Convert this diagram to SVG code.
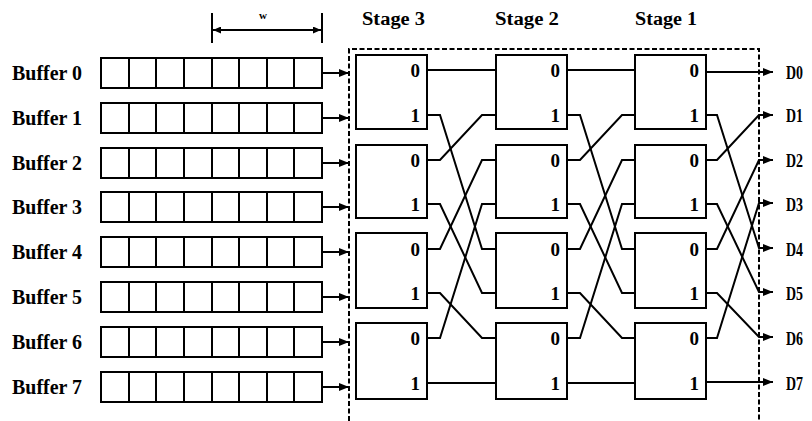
<svg xmlns="http://www.w3.org/2000/svg" width="812" height="421" viewBox="0 0 812 421">
<style>
.ln{fill:none;stroke:#000;stroke-width:2}
.box{fill:#fff;stroke:#000;stroke-width:2}
.dash{fill:none;stroke:#000;stroke-width:2;stroke-dasharray:5 2.5}
.t{font-family:"Liberation Serif",serif;font-weight:bold;fill:#000}
.lbl{font-size:20px}
.st{font-size:18px}
.pt{font-size:19px;text-anchor:end}
.arr{marker-end:url(#ah)}
</style>
<defs>
<marker id="ah" markerUnits="userSpaceOnUse" markerWidth="10" markerHeight="8" refX="10" refY="4" orient="auto">
<path d="M0,0L10,4L0,8z" fill="#000"/>
</marker>
<marker id="ah2" markerUnits="userSpaceOnUse" markerWidth="8" markerHeight="7" refX="8" refY="3.5" orient="auto-start-reverse">
<path d="M0,0L8,3.5L0,7z" fill="#000"/>
</marker>
</defs>
<rect width="812" height="421" fill="#fff"/>

<g id="width-marker">
<path class="ln" d="M212,13V43M322,13V43"/>
<line class="ln" x1="213" y1="30" x2="321" y2="30" marker-start="url(#ah2)" marker-end="url(#ah2)"/>
<text class="t" x="263" y="19" font-size="11" text-anchor="middle">w</text>
</g>

<g id="stage-labels">
<text class="t st" x="362" y="25" textLength="63" lengthAdjust="spacingAndGlyphs">Stage 3</text>
<text class="t st" x="495" y="25" textLength="64" lengthAdjust="spacingAndGlyphs">Stage 2</text>
<text class="t st" x="635" y="25" textLength="62" lengthAdjust="spacingAndGlyphs">Stage 1</text>
</g>

<g id="network-boundary">
<path class="dash" d="M349,421V49H759V421"/>
</g>

<g id="buffer0"><rect class="box" x="101" y="58" width="221" height="30"/><path class="ln" d="M129,58v30M156,58v30M184,58v30M212,58v30M239,58v30M267,58v30M294,58v30"/><text class="t lbl" x="12" y="80" textLength="70" lengthAdjust="spacingAndGlyphs">Buffer 0</text></g>
<g id="buffer1"><rect class="box" x="101" y="103" width="221" height="30"/><path class="ln" d="M129,103v30M156,103v30M184,103v30M212,103v30M239,103v30M267,103v30M294,103v30"/><text class="t lbl" x="12" y="125" textLength="70" lengthAdjust="spacingAndGlyphs">Buffer 1</text></g>
<g id="buffer2"><rect class="box" x="101" y="148" width="221" height="30"/><path class="ln" d="M129,148v30M156,148v30M184,148v30M212,148v30M239,148v30M267,148v30M294,148v30"/><text class="t lbl" x="12" y="170" textLength="70" lengthAdjust="spacingAndGlyphs">Buffer 2</text></g>
<g id="buffer3"><rect class="box" x="101" y="192" width="221" height="30"/><path class="ln" d="M129,192v30M156,192v30M184,192v30M212,192v30M239,192v30M267,192v30M294,192v30"/><text class="t lbl" x="12" y="214" textLength="70" lengthAdjust="spacingAndGlyphs">Buffer 3</text></g>
<g id="buffer4"><rect class="box" x="101" y="237" width="221" height="30"/><path class="ln" d="M129,237v30M156,237v30M184,237v30M212,237v30M239,237v30M267,237v30M294,237v30"/><text class="t lbl" x="12" y="259" textLength="70" lengthAdjust="spacingAndGlyphs">Buffer 4</text></g>
<g id="buffer5"><rect class="box" x="101" y="282" width="221" height="30"/><path class="ln" d="M129,282v30M156,282v30M184,282v30M212,282v30M239,282v30M267,282v30M294,282v30"/><text class="t lbl" x="12" y="304" textLength="70" lengthAdjust="spacingAndGlyphs">Buffer 5</text></g>
<g id="buffer6"><rect class="box" x="101" y="327" width="221" height="30"/><path class="ln" d="M129,327v30M156,327v30M184,327v30M212,327v30M239,327v30M267,327v30M294,327v30"/><text class="t lbl" x="12" y="349" textLength="70" lengthAdjust="spacingAndGlyphs">Buffer 6</text></g>
<g id="buffer7"><rect class="box" x="101" y="372" width="221" height="30"/><path class="ln" d="M129,372v30M156,372v30M184,372v30M212,372v30M239,372v30M267,372v30M294,372v30"/><text class="t lbl" x="12" y="394" textLength="70" lengthAdjust="spacingAndGlyphs">Buffer 7</text></g>

<g id="s3-sw0"><rect class="box" x="356" y="55" width="71" height="74"/><text class="t pt" x="420" y="77">0</text><text class="t pt" x="420" y="122">1</text></g>
<g id="s3-sw1"><rect class="box" x="356" y="145" width="71" height="73"/><text class="t pt" x="420" y="167">0</text><text class="t pt" x="420" y="211">1</text></g>
<g id="s3-sw2"><rect class="box" x="356" y="233" width="71" height="75"/><text class="t pt" x="420" y="256">0</text><text class="t pt" x="420" y="300">1</text></g>
<g id="s3-sw3"><rect class="box" x="356" y="323" width="71" height="76"/><text class="t pt" x="420" y="345">0</text><text class="t pt" x="420" y="390">1</text></g>

<g id="s2-sw0"><rect class="box" x="496" y="55" width="71" height="74"/><text class="t pt" x="560" y="77">0</text><text class="t pt" x="560" y="122">1</text></g>
<g id="s2-sw1"><rect class="box" x="496" y="145" width="71" height="73"/><text class="t pt" x="560" y="167">0</text><text class="t pt" x="560" y="211">1</text></g>
<g id="s2-sw2"><rect class="box" x="496" y="233" width="71" height="75"/><text class="t pt" x="560" y="256">0</text><text class="t pt" x="560" y="300">1</text></g>
<g id="s2-sw3"><rect class="box" x="496" y="323" width="71" height="76"/><text class="t pt" x="560" y="345">0</text><text class="t pt" x="560" y="390">1</text></g>

<g id="s1-sw0"><rect class="box" x="635" y="55" width="71" height="74"/><text class="t pt" x="699" y="77">0</text><text class="t pt" x="699" y="122">1</text></g>
<g id="s1-sw1"><rect class="box" x="635" y="145" width="71" height="73"/><text class="t pt" x="699" y="167">0</text><text class="t pt" x="699" y="211">1</text></g>
<g id="s1-sw2"><rect class="box" x="635" y="233" width="71" height="75"/><text class="t pt" x="699" y="256">0</text><text class="t pt" x="699" y="300">1</text></g>
<g id="s1-sw3"><rect class="box" x="635" y="323" width="71" height="76"/><text class="t pt" x="699" y="345">0</text><text class="t pt" x="699" y="390">1</text></g>

<g id="outputs">
<text class="t st" x="786" y="79" textLength="17" lengthAdjust="spacingAndGlyphs">D0</text>
<text class="t st" x="786" y="122" textLength="17" lengthAdjust="spacingAndGlyphs">D1</text>
<text class="t st" x="786" y="167" textLength="17" lengthAdjust="spacingAndGlyphs">D2</text>
<text class="t st" x="786" y="211" textLength="17" lengthAdjust="spacingAndGlyphs">D3</text>
<text class="t st" x="786" y="256" textLength="17" lengthAdjust="spacingAndGlyphs">D4</text>
<text class="t st" x="786" y="300" textLength="17" lengthAdjust="spacingAndGlyphs">D5</text>
<text class="t st" x="786" y="345" textLength="17" lengthAdjust="spacingAndGlyphs">D6</text>
<text class="t st" x="786" y="390" textLength="17" lengthAdjust="spacingAndGlyphs">D7</text>
</g>

<g id="connectors">
<line class="ln arr" x1="322" y1="73" x2="349" y2="73"/>
<line class="ln arr" x1="322" y1="118" x2="349" y2="118"/>
<line class="ln arr" x1="322" y1="163" x2="349" y2="163"/>
<line class="ln arr" x1="322" y1="207" x2="349" y2="207"/>
<line class="ln arr" x1="322" y1="252" x2="349" y2="252"/>
<line class="ln arr" x1="322" y1="297" x2="349" y2="297"/>
<line class="ln arr" x1="322" y1="342" x2="349" y2="342"/>
<line class="ln arr" x1="322" y1="387" x2="349" y2="387"/>

<polyline class="ln" points="427,70 496,70"/>
<polyline class="ln" points="427,115 440,115 482,249 496,249"/>
<polyline class="ln" points="427,160 440,160 482,115 496,115"/>
<polyline class="ln" points="427,204 440,204 482,293 496,293"/>
<polyline class="ln" points="427,249 440,249 482,160 496,160"/>
<polyline class="ln" points="427,293 440,293 482,338 496,338"/>
<polyline class="ln" points="427,338 440,338 482,204 496,204"/>
<polyline class="ln" points="427,383 496,383"/>

<polyline class="ln" points="567,70 635,70"/>
<polyline class="ln" points="567,115 580,115 622,249 635,249"/>
<polyline class="ln" points="567,160 580,160 622,115 635,115"/>
<polyline class="ln" points="567,204 580,204 622,293 635,293"/>
<polyline class="ln" points="567,249 580,249 622,160 635,160"/>
<polyline class="ln" points="567,293 580,293 622,338 635,338"/>
<polyline class="ln" points="567,338 580,338 622,204 635,204"/>
<polyline class="ln" points="567,383 635,383"/>

<polyline class="ln arr" points="706,72 773,72"/>
<polyline class="ln arr" points="706,115 717,115 759,248 773,248"/>
<polyline class="ln arr" points="706,160 717,160 759,115 773,115"/>
<polyline class="ln arr" points="706,204 717,204 759,292 773,292"/>
<polyline class="ln arr" points="706,249 717,249 759,160 773,160"/>
<polyline class="ln arr" points="706,293 717,293 759,337 773,337"/>
<polyline class="ln arr" points="706,338 717,338 759,203 773,203"/>
<polyline class="ln arr" points="706,382 773,382"/>
</g>
</svg>
